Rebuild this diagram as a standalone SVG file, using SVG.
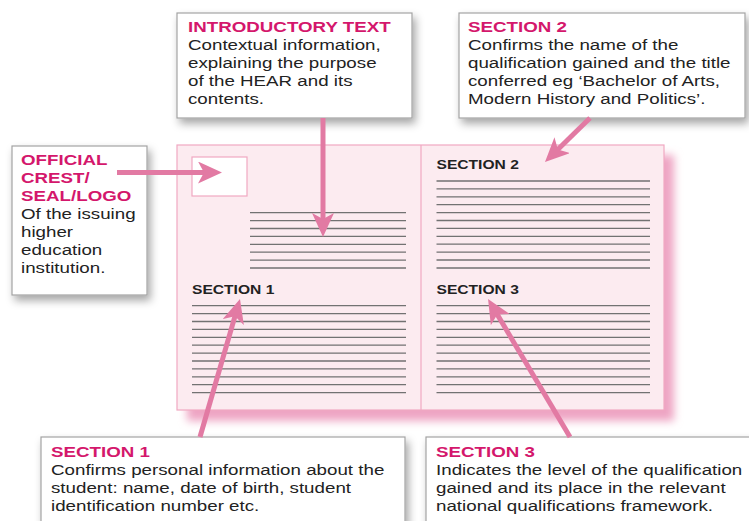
<svg xmlns="http://www.w3.org/2000/svg" width="749" height="521" viewBox="0 0 749 521">
  <defs>
    <style>
      .box { fill: #ffffff; stroke: #a3a3a3; stroke-width: 1.2; filter: url(#boxShadow); }
      .head { font-family: "Liberation Sans", Arial, sans-serif; font-weight: bold; font-size: 15px; fill: #d4176c; }
      .body { font-family: "Liberation Sans", Arial, sans-serif; font-size: 15px; fill: #222222; }
      .label { font-family: "Liberation Sans", Arial, sans-serif; font-weight: bold; font-size: 12.5px; fill: #222222; }
      .rule { fill: none; stroke: #727272; stroke-width: 1.3; }
      .page { fill: #fcebf0; stroke: #f0a8c2; stroke-width: 1.2; }
      .arrow { fill: none; stroke: #e27aa3; stroke-width: 5; marker-end: url(#head); }
    </style>
    <filter id="boxShadow" x="-10%" y="-10%" width="125%" height="130%">
      <feDropShadow dx="3" dy="5" stdDeviation="4" flood-color="#000000" flood-opacity="0.35"/>
    </filter>
    <filter id="pageShadow" x="-10%" y="-10%" width="125%" height="130%">
      <feGaussianBlur stdDeviation="4.5"/>
    </filter>
    <marker id="head" viewBox="0 0 24 22" refX="10" refY="11" markerWidth="24" markerHeight="22" markerUnits="userSpaceOnUse" orient="auto">
      <path d="M0 0 L24 11 L0 22 L6 11 Z" fill="#e27aa3"/>
    </marker>
  </defs>

  <rect width="749" height="521" fill="#ffffff"/>

  <!-- open document spread -->
  <g id="document">
    <rect x="187" y="155" width="487" height="266" fill="#eea4c3" filter="url(#pageShadow)"/>
    <rect class="page" x="177" y="145" width="487" height="265"/>
    <line x1="421" y1="145" x2="421" y2="410" stroke="#f0a8c2" stroke-width="1.2"/>
    <rect x="192" y="157" width="55" height="39" fill="#ffffff" stroke="#f0a8c2" stroke-width="1.2"/>

    <!-- introductory text block -->
    <path class="rule" d="M250 212.7H406M250 220.6H406M250 228.5H406M250 236.4H406M250 244.3H406M250 252.2H406M250 260.1H406M250 268H406"/>

    <!-- section 1 block -->
    <text class="label" transform="translate(192 0) scale(1.25 1)" x="0" y="294">SECTION 1</text>
    <path class="rule" d="M192 305.7H406M192 313.6H406M192 321.5H406M192 329.4H406M192 337.3H406M192 345.2H406M192 353.1H406M192 361H406M192 368.9H406M192 376.8H406M192 384.7H406M192 392.6H406"/>

    <!-- section 2 block -->
    <text class="label" transform="translate(436.5 0) scale(1.25 1)" x="0" y="169">SECTION 2</text>
    <path class="rule" d="M436.5 181H650M436.5 188.9H650M436.5 196.8H650M436.5 204.7H650M436.5 212.6H650M436.5 220.5H650M436.5 228.4H650M436.5 236.3H650M436.5 244.2H650M436.5 252.1H650M436.5 260H650M436.5 268H650"/>

    <!-- section 3 block -->
    <text class="label" transform="translate(436.5 0) scale(1.25 1)" x="0" y="294">SECTION 3</text>
    <path class="rule" d="M436.5 305.7H650M436.5 313.6H650M436.5 321.5H650M436.5 329.4H650M436.5 337.3H650M436.5 345.2H650M436.5 353.1H650M436.5 361H650M436.5 368.9H650M436.5 376.8H650M436.5 384.7H650M436.5 392.6H650"/>
  </g>

  <!-- callout boxes -->
  <g id="intro">
    <rect class="box" x="177" y="13" width="235" height="105"/>
    <g transform="translate(188 0) scale(1.25 1)">
      <text class="head" x="0" y="32">INTRODUCTORY TEXT</text>
      <text class="body" x="0" y="50">Contextual information,</text>
      <text class="body" x="0" y="68">explaining the purpose</text>
      <text class="body" x="0" y="86">of the HEAR and its</text>
      <text class="body" x="0" y="104">contents.</text>
    </g>
  </g>

  <g id="section2">
    <rect class="box" x="459" y="13" width="286" height="105"/>
    <g transform="translate(468 0) scale(1.25 1)">
      <text class="head" x="0" y="32">SECTION 2</text>
      <text class="body" x="0" y="50">Confirms the name of the</text>
      <text class="body" x="0" y="68">qualification gained and the title</text>
      <text class="body" x="0" y="86">conferred eg ‘Bachelor of Arts,</text>
      <text class="body" x="0" y="104">Modern History and Politics’.</text>
    </g>
  </g>

  <g id="crest">
    <rect class="box" x="12" y="146" width="135" height="149"/>
    <g transform="translate(21 0) scale(1.25 1)">
      <text class="head" x="0" y="165.5">OFFICIAL</text>
      <text class="head" x="0" y="183.5">CREST/</text>
      <text class="head" x="0" y="201.5">SEAL/LOGO</text>
      <text class="body" x="0" y="219.5">Of the issuing</text>
      <text class="body" x="0" y="237.5">higher</text>
      <text class="body" x="0" y="255.5">education</text>
      <text class="body" x="0" y="273.5">institution.</text>
    </g>
  </g>

  <g id="section1">
    <rect class="box" x="41" y="437" width="364" height="110"/>
    <g transform="translate(51 0) scale(1.25 1)">
      <text class="head" x="0" y="457.5">SECTION 1</text>
      <text class="body" x="0" y="475.5">Confirms personal information about the</text>
      <text class="body" x="0" y="493.5">student: name, date of birth, student</text>
      <text class="body" x="0" y="511.5">identification number etc.</text>
    </g>
  </g>

  <g id="section3">
    <rect class="box" x="426" y="437" width="340" height="110"/>
    <g transform="translate(436 0) scale(1.25 1)">
      <text class="head" x="0" y="457.5">SECTION 3</text>
      <text class="body" x="0" y="475.5">Indicates the level of the qualification</text>
      <text class="body" x="0" y="493.5">gained and its place in the relevant</text>
      <text class="body" x="0" y="511.5">national qualifications framework.</text>
    </g>
  </g>

  <!-- connectors -->
  <g id="connectors">
    <path class="arrow" d="M117 172.5L208 172.5"/>
    <path class="arrow" d="M323 118L323 223"/>
    <path class="arrow" d="M590 118L555 152.2"/>
    <path class="arrow" d="M200 437L236.1 312.4"/>
    <path class="arrow" d="M570 437L495.2 311"/>
  </g>
</svg>
